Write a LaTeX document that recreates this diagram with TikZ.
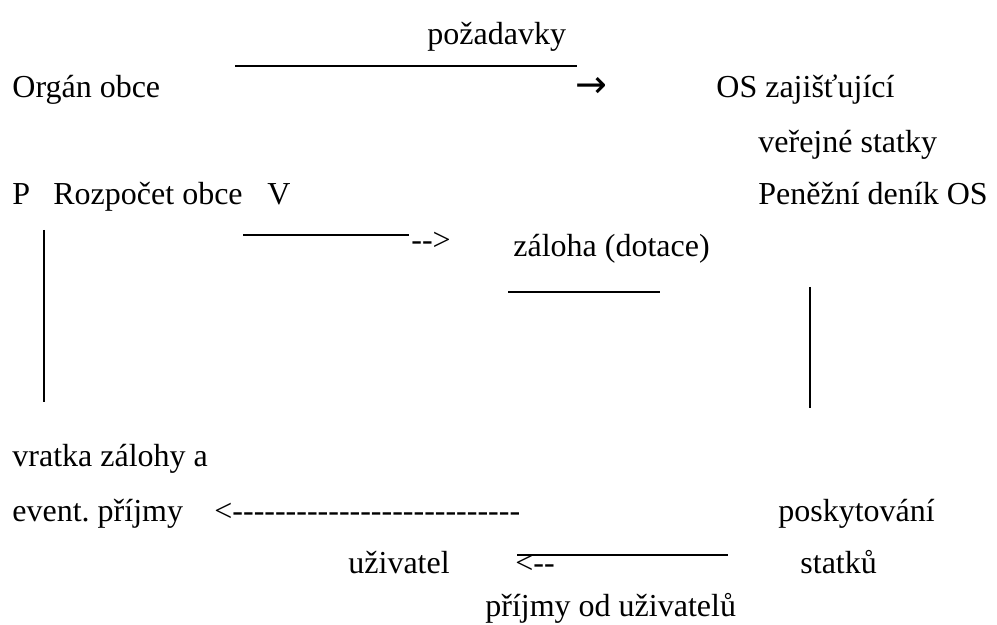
\documentclass[tikz,border=0pt]{standalone}
\usepackage{fontspec}
\setmainfont{Liberation Serif}
\newfontfamily\arrowfont{DejaVu Sans}

\begin{document}
\begin{tikzpicture}
    [x=0.5pt,y=-0.5pt,
     lbl/.style={anchor=base west,inner sep=0pt,font=\fontsize{16}{19}\selectfont},
     rule/.style={line width=1.4pt}]
    \useasboundingbox (0,0) rectangle (997,625);

    % top row
    \node[lbl] (req) at (427,45) {požadavky};
    \node[lbl] (organ) at (12,98) {Orgán obce};
    \node[lbl] (os) at (716,98) {OS zajišťující};
    \node[lbl] (goods) at (758,153) {veřejné statky};
    \coordinate (reqL) at (235,66);
    \coordinate (reqR) at (577,66);
    \draw[rule] (reqL) -- (reqR);
    \node[lbl,anchor=center,font=\arrowfont\fontsize{19}{22}\selectfont] (reqtip) at (591,87) {→};

    % budget row
    \node[lbl] (budP) at (12,205) {P};
    \node[lbl] (budget) at (53,205) {Rozpočet obce};
    \node[lbl] (budV) at (267,205) {V};
    \node[lbl] (ledger) at (758,205) {Peněžní deník OS};

    \coordinate (advL) at (243,235);
    \coordinate (advR) at (409,235);
    \draw[rule] (advL) -- (advR);
    \node[lbl] (advtip) at (411,251) {-{}->};
    \node[lbl] (advance) at (513,257) {záloha (dotace)};
    \coordinate (subL) at (508,292);
    \coordinate (subR) at (660,292);
    \draw[rule] (subL) -- (subR);

    % verticals
    \coordinate (leftT) at (44,230);
    \coordinate (leftB) at (44,402);
    \draw[rule] (leftT) -- (leftB);
    \coordinate (rightT) at (810,287);
    \coordinate (rightB) at (810,408);
    \draw[rule] (rightT) -- (rightB);

    % bottom rows
    \node[lbl] (refund) at (12,467) {vratka zálohy a};
    \node[lbl] (income) at (12,522) {event.\ příjmy};
    \node[lbl] (back) at (214,522) {<-{}-{}-{}-{}-{}-{}-{}-{}-{}-{}-{}-{}-{}-{}-{}-{}-{}-{}-{}-{}-{}-{}-{}-{}-{}-{}-};
    \node[lbl] (supply) at (778,522) {poskytování};
    \node[lbl] (supply2) at (800,574) {statků};
    \node[lbl] (user) at (348,574) {uživatel};
    \coordinate (feeL) at (517,555);
    \coordinate (feeR) at (728,555);
    \draw[rule] (feeL) -- (feeR);
    \node[lbl] (feetip) at (515,574) {<-{}-};
    \node[lbl] (fees) at (485,617) {příjmy od uživatelů};
\end{tikzpicture}
\end{document}
